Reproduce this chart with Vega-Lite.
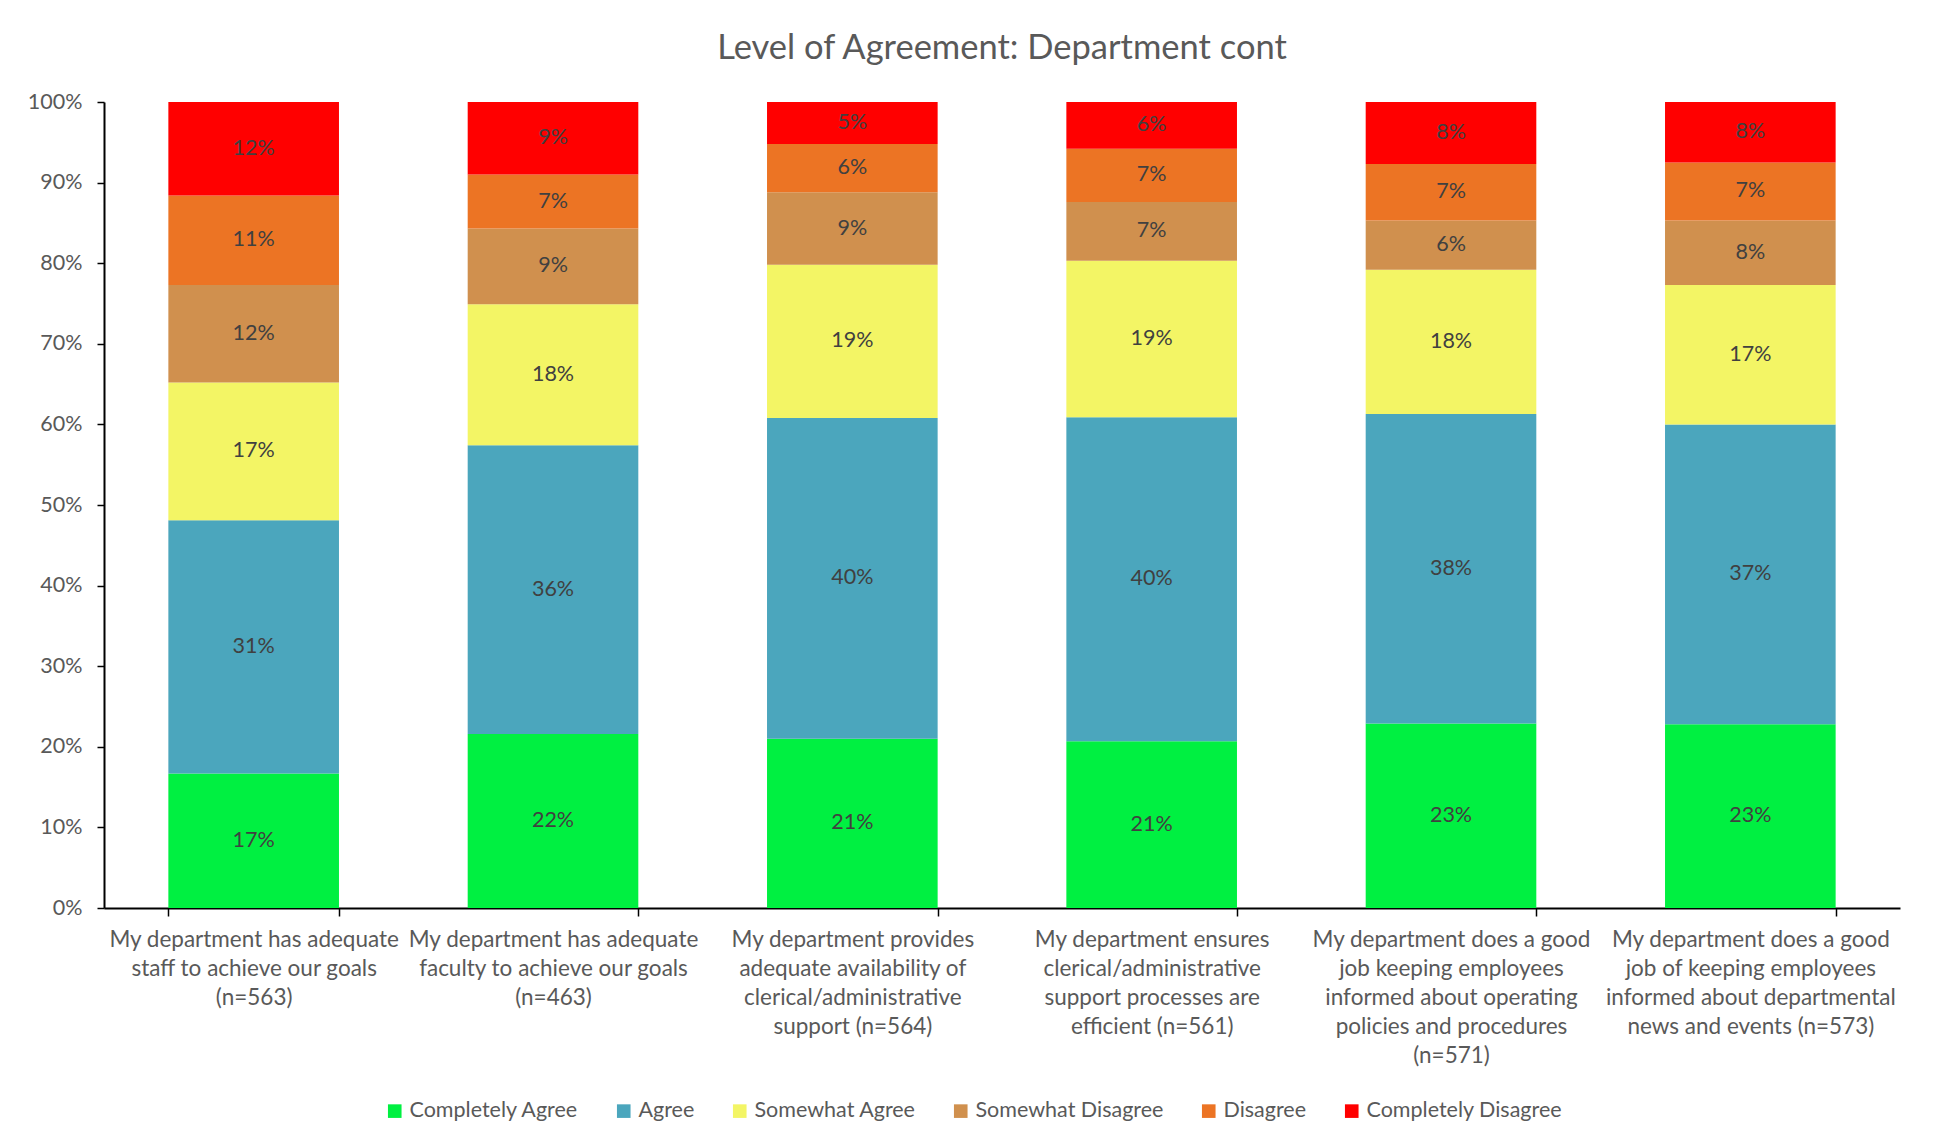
{
  "$schema": "https://vega.github.io/schema/vega-lite/v6.json",
  "width": 1796,
  "height": 806,
  "autosize": "none",
  "padding": {"left": 104, "top": 102, "right": 35, "bottom": 237},
  "background": "white",
  "config": {"view": {"stroke": null}, "font": "Lato"},
  "title": {"text": "Level of Agreement: Department cont", "fontSize": 34.5, "font": "Lato", "fontWeight": "normal", "color": "#595959", "offset": 25},
  "data": {"values": [
    {"q": "My department has adequate|staff to achieve our goals|(n=563)", "resp": "Completely Agree", "order": 1, "value": 0.167},
    {"q": "My department has adequate|staff to achieve our goals|(n=563)", "resp": "Agree", "order": 2, "value": 0.314},
    {"q": "My department has adequate|staff to achieve our goals|(n=563)", "resp": "Somewhat Agree", "order": 3, "value": 0.171},
    {"q": "My department has adequate|staff to achieve our goals|(n=563)", "resp": "Somewhat Disagree", "order": 4, "value": 0.121},
    {"q": "My department has adequate|staff to achieve our goals|(n=563)", "resp": "Disagree", "order": 5, "value": 0.111},
    {"q": "My department has adequate|staff to achieve our goals|(n=563)", "resp": "Completely Disagree", "order": 6, "value": 0.116},
    {"q": "My department has adequate|faculty to achieve our goals|(n=463)", "resp": "Completely Agree", "order": 1, "value": 0.216},
    {"q": "My department has adequate|faculty to achieve our goals|(n=463)", "resp": "Agree", "order": 2, "value": 0.358},
    {"q": "My department has adequate|faculty to achieve our goals|(n=463)", "resp": "Somewhat Agree", "order": 3, "value": 0.175},
    {"q": "My department has adequate|faculty to achieve our goals|(n=463)", "resp": "Somewhat Disagree", "order": 4, "value": 0.094},
    {"q": "My department has adequate|faculty to achieve our goals|(n=463)", "resp": "Disagree", "order": 5, "value": 0.067},
    {"q": "My department has adequate|faculty to achieve our goals|(n=463)", "resp": "Completely Disagree", "order": 6, "value": 0.090},
    {"q": "My department provides|adequate availability of|clerical/administrative|support (n=564)", "resp": "Completely Agree", "order": 1, "value": 0.210},
    {"q": "My department provides|adequate availability of|clerical/administrative|support (n=564)", "resp": "Agree", "order": 2, "value": 0.398},
    {"q": "My department provides|adequate availability of|clerical/administrative|support (n=564)", "resp": "Somewhat Agree", "order": 3, "value": 0.190},
    {"q": "My department provides|adequate availability of|clerical/administrative|support (n=564)", "resp": "Somewhat Disagree", "order": 4, "value": 0.090},
    {"q": "My department provides|adequate availability of|clerical/administrative|support (n=564)", "resp": "Disagree", "order": 5, "value": 0.060},
    {"q": "My department provides|adequate availability of|clerical/administrative|support (n=564)", "resp": "Completely Disagree", "order": 6, "value": 0.052},
    {"q": "My department ensures|clerical/administrative|support processes are|efficient (n=561)", "resp": "Completely Agree", "order": 1, "value": 0.207},
    {"q": "My department ensures|clerical/administrative|support processes are|efficient (n=561)", "resp": "Agree", "order": 2, "value": 0.402},
    {"q": "My department ensures|clerical/administrative|support processes are|efficient (n=561)", "resp": "Somewhat Agree", "order": 3, "value": 0.194},
    {"q": "My department ensures|clerical/administrative|support processes are|efficient (n=561)", "resp": "Somewhat Disagree", "order": 4, "value": 0.073},
    {"q": "My department ensures|clerical/administrative|support processes are|efficient (n=561)", "resp": "Disagree", "order": 5, "value": 0.066},
    {"q": "My department ensures|clerical/administrative|support processes are|efficient (n=561)", "resp": "Completely Disagree", "order": 6, "value": 0.058},
    {"q": "My department does a good|job keeping employees|informed about operating|policies and procedures|(n=571)", "resp": "Completely Agree", "order": 1, "value": 0.229},
    {"q": "My department does a good|job keeping employees|informed about operating|policies and procedures|(n=571)", "resp": "Agree", "order": 2, "value": 0.384},
    {"q": "My department does a good|job keeping employees|informed about operating|policies and procedures|(n=571)", "resp": "Somewhat Agree", "order": 3, "value": 0.179},
    {"q": "My department does a good|job keeping employees|informed about operating|policies and procedures|(n=571)", "resp": "Somewhat Disagree", "order": 4, "value": 0.061},
    {"q": "My department does a good|job keeping employees|informed about operating|policies and procedures|(n=571)", "resp": "Disagree", "order": 5, "value": 0.070},
    {"q": "My department does a good|job keeping employees|informed about operating|policies and procedures|(n=571)", "resp": "Completely Disagree", "order": 6, "value": 0.077},
    {"q": "My department does a good|job of keeping employees|informed about departmental|news and events (n=573)", "resp": "Completely Agree", "order": 1, "value": 0.228},
    {"q": "My department does a good|job of keeping employees|informed about departmental|news and events (n=573)", "resp": "Agree", "order": 2, "value": 0.372},
    {"q": "My department does a good|job of keeping employees|informed about departmental|news and events (n=573)", "resp": "Somewhat Agree", "order": 3, "value": 0.173},
    {"q": "My department does a good|job of keeping employees|informed about departmental|news and events (n=573)", "resp": "Somewhat Disagree", "order": 4, "value": 0.080},
    {"q": "My department does a good|job of keeping employees|informed about departmental|news and events (n=573)", "resp": "Disagree", "order": 5, "value": 0.072},
    {"q": "My department does a good|job of keeping employees|informed about departmental|news and events (n=573)", "resp": "Completely Disagree", "order": 6, "value": 0.075}
  ]},
  "transform": [
    {"stack": "value", "groupby": ["q"], "sort": [{"field": "order", "order": "ascending"}], "as": ["v0", "v1"]},
    {"calculate": "(datum.v0 + datum.v1) / 2", "as": "mid"}
  ],
  "encoding": {
    "x": {"field": "q", "type": "nominal", "sort": null,
      "scale": {"paddingInner": 0.43, "paddingOuter": 0.215},
      "axis": {"title": null, "labelAngle": 0, "labelExpr": "split(datum.label, '|')", "labelFontSize": 22.5, "labelColor": "#595959", "labelFont": "Lato", "labelLineHeight": 29, "labelBaseline": "top", "labelPadding": 12, "tickBand": "extent", "tickSize": 8, "tickColor": "#000000", "tickWidth": 1.5, "domainColor": "#000000", "domainWidth": 2, "labelLimit": 400}
    }
  },
  "layer": [
    {
      "mark": {"type": "bar"},
      "encoding": {
        "y": {"field": "v0", "type": "quantitative", "scale": {"domain": [0, 1]},
          "axis": {"title": null, "values": [0, 0.1, 0.2, 0.3, 0.4, 0.5, 0.6, 0.7, 0.8, 0.9, 1], "format": ".0%", "grid": false, "labelFontSize": 21.5, "labelColor": "#595959", "labelFont": "Lato", "labelPadding": 15, "tickSize": 7, "tickColor": "#000000", "tickWidth": 1.5, "domainColor": "#000000", "domainWidth": 2}},
        "y2": {"field": "v1"},
        "color": {"field": "resp", "type": "nominal",
          "scale": {"domain": ["Completely Agree", "Agree", "Somewhat Agree", "Somewhat Disagree", "Disagree", "Completely Disagree"],
                    "range": ["#00F041", "#4BA6BD", "#F3F565", "#D0904E", "#EC7424", "#FF0000"]},
          "legend": {"title": null, "orient": "none", "legendX": 280, "legendY": 998, "direction": "horizontal", "symbolType": "square", "symbolSize": 185, "symbolStrokeWidth": 0, "labelFontSize": 21.5, "labelColor": "#595959", "labelFont": "Lato", "labelOffset": 4, "columnPadding": 34, "labelLimit": 400}
        }
      }
    },
    {
      "mark": {"type": "text", "fontSize": 21.5, "font": "Lato", "color": "#404040"},
      "encoding": {
        "y": {"field": "mid", "type": "quantitative"},
        "text": {"field": "value", "type": "quantitative", "format": ".0%"}
      }
    }
  ]
}
